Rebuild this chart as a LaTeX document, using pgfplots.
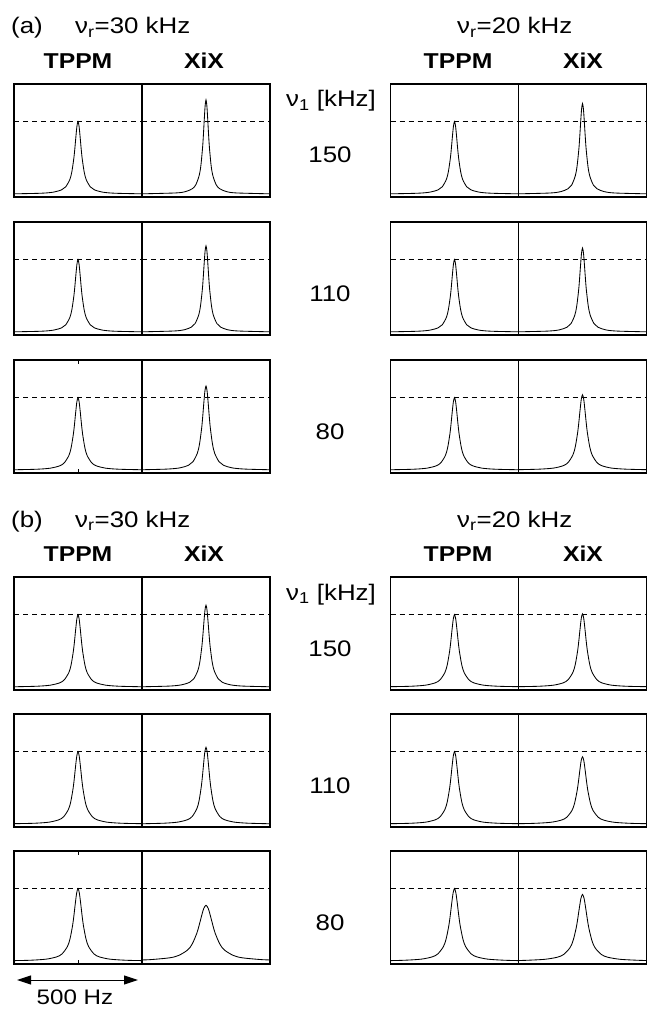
\documentclass[border=0pt]{standalone}
\usepackage{pgfplots}
\pgfplotsset{compat=1.18}
\usepackage{pgfplotstable}
\usepackage{fontspec}
\setmainfont{Liberation Sans}[FakeStretch=1.15]
\usetikzlibrary{arrows.meta}

% Lorentzian-like spectra (x in Hz, y relative to TPPM height)
\pgfplotstableread{
x y
-265 0.004
-153 0.012
-102 0.027
-68 0.059
-51 0.1
-34 0.2
-25.5 0.308
-17 0.5
-12.75 0.64
-8.5 0.8
-4.25 0.941
0 1
4.25 0.941
8.5 0.8
12.75 0.64
17 0.5
25.5 0.308
34 0.2
51 0.1
68 0.059
102 0.027
153 0.012
265 0.004
}\tTa
\pgfplotstableread{
x y
-265 0.005
-171 0.012
-114 0.027
-76 0.059
-57 0.1
-38 0.2
-28.5 0.308
-19 0.5
-14.25 0.64
-9.5 0.8
-4.75 0.941
0 1
4.75 0.941
9.5 0.8
14.25 0.64
19 0.5
28.5 0.308
38 0.2
57 0.1
76 0.059
114 0.027
171 0.012
265 0.005
}\tTb
\pgfplotstableread{
x y
-265 0.006
-180 0.012
-120 0.027
-80 0.059
-60 0.1
-40 0.2
-30 0.308
-20 0.5
-15 0.64
-10 0.8
-5 0.941
0 1
5 0.941
10 0.8
15 0.64
20 0.5
30 0.308
40 0.2
60 0.1
80 0.059
120 0.027
180 0.012
265 0.006
}\tTc
\pgfplotstableread{
x y
-265 0.007
-198 0.012
-132 0.027
-88 0.059
-66 0.1
-44 0.2
-33 0.308
-22 0.5
-16.5 0.64
-11 0.8
-5.5 0.941
0 1
5.5 0.941
11 0.8
16.5 0.64
22 0.5
33 0.308
44 0.2
66 0.1
88 0.059
132 0.027
198 0.012
265 0.007
}\tTd
\pgfplotstableread{
x y
-265 0.007
-207 0.012
-138 0.027
-92 0.059
-69 0.1
-46 0.2
-34.5 0.308
-23 0.5
-17.25 0.64
-11.5 0.8
-5.75 0.941
0 1
5.75 0.941
11.5 0.8
17.25 0.64
23 0.5
34.5 0.308
46 0.2
69 0.1
92 0.059
138 0.027
207 0.012
265 0.007
}\tTe
% XiX (a)
\pgfplotstableread{
x y
-265 0.004
-126 0.016
-84 0.035
-56 0.076
-42 0.13
-28 0.26
-21 0.4
-14 0.65
-10.5 0.832
-7 1.04
-3.5 1.223
0 1.3
3.5 1.223
7 1.04
10.5 0.832
14 0.65
21 0.4
28 0.26
42 0.13
56 0.076
84 0.035
126 0.016
265 0.004
}\tXaLa
\pgfplotstableread{
x y
-265 0.004
-135 0.015
-90 0.032
-60 0.07
-45 0.119
-30 0.238
-22.5 0.367
-15 0.595
-11.25 0.762
-7.5 0.952
-3.75 1.12
0 1.19
3.75 1.12
7.5 0.952
11.25 0.762
15 0.595
22.5 0.367
30 0.238
45 0.119
60 0.07
90 0.032
135 0.015
265 0.004
}\tXaLb
\pgfplotstableread{
x y
-265 0.005
-162 0.014
-108 0.031
-72 0.068
-54 0.116
-36 0.232
-27 0.357
-18 0.58
-13.5 0.742
-9 0.928
-4.5 1.092
0 1.16
4.5 1.092
9 0.928
13.5 0.742
18 0.58
27 0.357
36 0.232
54 0.116
72 0.068
108 0.031
162 0.014
265 0.005
}\tXaLc
\pgfplotstableread{
x y
-265 0.004
-135 0.015
-90 0.034
-60 0.074
-45 0.125
-30 0.25
-22.5 0.385
-15 0.625
-11.25 0.8
-7.5 1.0
-3.75 1.176
0 1.25
3.75 1.176
7.5 1.0
11.25 0.8
15 0.625
22.5 0.385
30 0.25
45 0.125
60 0.074
90 0.034
135 0.015
265 0.004
}\tXaRa
\pgfplotstableread{
x y
-265 0.004
-144 0.014
-96 0.031
-64 0.068
-48 0.116
-32 0.232
-24 0.357
-16 0.58
-12 0.742
-8 0.928
-4 1.092
0 1.16
4 1.092
8 0.928
12 0.742
16 0.58
24 0.357
32 0.232
48 0.116
64 0.068
96 0.031
144 0.014
265 0.004
}\tXaRb
\pgfplotstableread{
x y
-265 0.006
-180 0.013
-120 0.028
-80 0.061
-60 0.104
-40 0.208
-30 0.32
-20 0.52
-15 0.666
-10 0.832
-5 0.979
0 1.04
5 0.979
10 0.832
15 0.666
20 0.52
30 0.32
40 0.208
60 0.104
80 0.061
120 0.028
180 0.013
265 0.006
}\tXaRc
% XiX (b)
\pgfplotstableread{
x y
-265 0.005
-153 0.014
-102 0.031
-68 0.066
-51 0.113
-34 0.226
-25.5 0.348
-17 0.565
-12.75 0.723
-8.5 0.904
-4.25 1.063
0 1.13
4.25 1.063
8.5 0.904
12.75 0.723
17 0.565
25.5 0.348
34 0.226
51 0.113
68 0.066
102 0.031
153 0.014
265 0.005
}\tXbLa
\pgfplotstableread{
x y
-265 0.005
-171 0.013
-114 0.029
-76 0.062
-57 0.106
-38 0.212
-28.5 0.326
-19 0.53
-14.25 0.678
-9.5 0.848
-4.75 0.998
0 1.06
4.75 0.998
9.5 0.848
14.25 0.678
19 0.53
28.5 0.326
38 0.212
57 0.106
76 0.062
114 0.029
171 0.013
265 0.005
}\tXbLb
\pgfplotstableread{
x y
-265 0.016
-228 0.021
-152 0.045
-114 0.077
-76 0.154
-57 0.237
-38 0.385
-28.5 0.493
-19 0.616
-9.5 0.725
0 0.77
9.5 0.725
19 0.616
28.5 0.493
38 0.385
57 0.237
76 0.154
114 0.077
152 0.045
228 0.021
265 0.016
}\tXbLc
\pgfplotstableread{
x y
-265 0.006
-180 0.012
-120 0.027
-80 0.059
-60 0.101
-40 0.202
-30 0.311
-20 0.505
-15 0.646
-10 0.808
-5 0.951
0 1.01
5 0.951
10 0.808
15 0.646
20 0.505
30 0.311
40 0.202
60 0.101
80 0.059
120 0.027
180 0.012
265 0.006
}\tXbRa
\pgfplotstableread{
x y
-265 0.006
-198 0.011
-132 0.025
-88 0.055
-66 0.093
-44 0.186
-33 0.286
-22 0.465
-16.5 0.595
-11 0.744
-5.5 0.875
0 0.93
5.5 0.875
11 0.744
16.5 0.595
22 0.465
33 0.286
44 0.186
66 0.093
88 0.055
132 0.025
198 0.011
265 0.006
}\tXbRb
\pgfplotstableread{
x y
-265 0.009
-234 0.011
-156 0.025
-104 0.054
-78 0.092
-52 0.184
-39 0.283
-26 0.46
-19.5 0.589
-13 0.736
-6.5 0.866
0 0.92
6.5 0.866
13 0.736
19.5 0.589
26 0.46
39 0.283
52 0.184
78 0.092
104 0.054
156 0.025
234 0.011
265 0.009
}\tXbRc

\pgfplotsset{
  panel/.style={scale only axis, width=128pt, height=113pt,
    anchor=north west, xmin=-265, xmax=265, ymin=-0.04, ymax=1.52,
    xtick=\empty, ytick=\empty, axis line style={line width=1.8pt}},
  tickpanel/.style={xtick={0}, xticklabels={}, major tick length=4pt,
    tick style={line width=0.6pt, black}},
  pk/.style={black, line width=0.85pt, smooth, mark=none},
  refl/.style={black, line width=0.6pt, dash pattern=on 5pt off 4pt, mark=none},
}
\newcommand{\panel}[4][]{%
  \begin{axis}[panel, at={(#2pt,-#3pt)}, #1]
    \addplot[refl] coordinates {(-265,1) (265,1)};
    \addplot[pk] table {#4};
  \end{axis}}

\begin{document}
\begin{tikzpicture}[x=1pt,y=1pt,
  txt/.style={font=\fontsize{22.5}{26}\selectfont, inner sep=0pt},
  btxt/.style={font=\fontsize{21.5}{25}\selectfont\bfseries, inner sep=0pt}]
\useasboundingbox (0,0) rectangle (647,-1011);

% ---------- (a) ----------
\node[txt, anchor=base west] at (11,-34) {(a)};
\node[txt, anchor=base west] at (75,-34) {ν\textsubscript{r}=30 kHz};
\node[txt, anchor=base west] at (457,-34) {ν\textsubscript{r}=20 kHz};
\node[btxt, anchor=base] at (78,-69) {TPPM};
\node[btxt, anchor=base] at (204,-69) {XiX};
\node[btxt, anchor=base] at (458,-69) {TPPM};
\node[btxt, anchor=base] at (583,-69) {XiX};
\node[txt, anchor=base] at (331,-107) {ν\textsubscript{1} [kHz]};
\node[txt, anchor=base] at (330,-163) {150};
\node[txt, anchor=base] at (330,-301) {110};
\node[txt, anchor=base] at (330,-439) {80};

\panel{14}{84}{\tTa}
\panel{142}{84}{\tXaLa}
\panel{390.5}{84}{\tTa}
\panel{518.5}{84}{\tXaRa}

\panel{14}{222}{\tTa}
\panel{142}{222}{\tXaLb}
\panel{390.5}{222}{\tTa}
\panel{518.5}{222}{\tXaRb}

\panel[tickpanel]{14}{360}{\tTb}
\panel{142}{360}{\tXaLc}
\panel{390.5}{360}{\tTb}
\panel{518.5}{360}{\tXaRc}

% ---------- (b) ----------
\node[txt, anchor=base west] at (11,-527) {(b)};
\node[txt, anchor=base west] at (75,-527) {ν\textsubscript{r}=30 kHz};
\node[txt, anchor=base west] at (457,-527) {ν\textsubscript{r}=20 kHz};
\node[btxt, anchor=base] at (78,-561) {TPPM};
\node[btxt, anchor=base] at (204,-561) {XiX};
\node[btxt, anchor=base] at (458,-561) {TPPM};
\node[btxt, anchor=base] at (583,-561) {XiX};
\node[txt, anchor=base] at (331,-600) {ν\textsubscript{1} [kHz]};
\node[txt, anchor=base] at (330,-656) {150};
\node[txt, anchor=base] at (330,-793) {110};
\node[txt, anchor=base] at (330,-930) {80};

\panel{14}{577}{\tTb}
\panel{142}{577}{\tXbLa}
\panel{390.5}{577}{\tTc}
\panel{518.5}{577}{\tXbRa}

\panel{14}{714}{\tTc}
\panel{142}{714}{\tXbLb}
\panel{390.5}{714}{\tTc}
\panel{518.5}{714}{\tXbRb}

\panel[tickpanel]{14}{851}{\tTd}
\panel{142}{851}{\tXbLc}
\panel{390.5}{851}{\tTe}
\panel{518.5}{851}{\tXbRc}

% scale bar
\draw[line width=1pt, {Triangle[length=14pt,width=9pt]}-{Triangle[length=14pt,width=9pt]}] (17,-980) -- (138,-980);
\node[font=\fontsize{21}{25}\selectfont, inner sep=0pt, anchor=base] at (75,-1004) {500 Hz};
\end{tikzpicture}
\end{document}
